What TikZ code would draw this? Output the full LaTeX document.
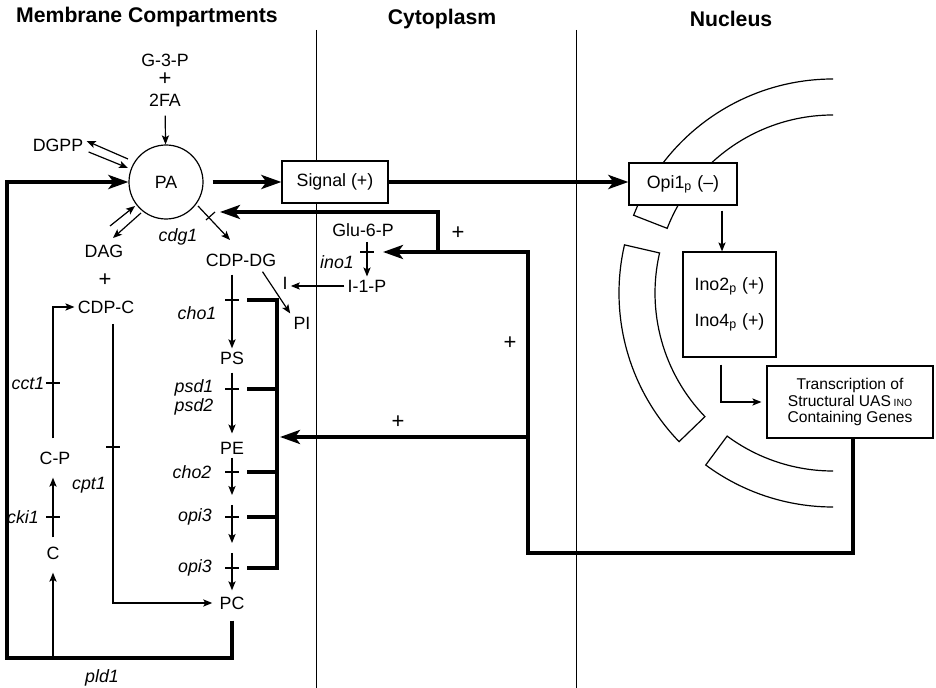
\documentclass[tikz,border=0pt]{standalone}
\usepackage{fontspec}
\setmainfont{Liberation Sans}
\usetikzlibrary{arrows.meta,calc,positioning}
\newcommand{\bodyfont}{\fontsize{8.9}{10.5}\selectfont}
\newcommand{\headfont}{\fontsize{10.6}{12}\selectfont\bfseries}
\newcommand{\boxfont}{\fontsize{7.8}{8.3}\selectfont}
\tikzset{
  lbl/.style={font=\bodyfont,inner sep=1.5pt},
  plus/.style={font=\fontsize{11}{12}\selectfont,inner sep=1pt},
  gene/.style={font=\bodyfont\itshape,inner sep=1pt},
  hdr/.style={font=\headfont,anchor=base},
  conn/.style={line width=0.6pt},
  arr/.style={conn,-{Stealth[length=4.5pt,width=3.6pt,inset=1pt]}},
  fb/.style={line width=1.8pt},
  fbarr/.style={fb,-{Stealth[length=10pt,width=7pt,inset=2.5pt]}},
  box/.style={draw,line width=0.6pt,fill=white,font=\bodyfont,inner sep=2pt},
  envelope/.style={draw,line width=0.6pt},
  divider/.style={line width=0.5pt},
}

\begin{document}
\begin{tikzpicture}[x=0.5pt,y=-0.5pt]
\useasboundingbox (0,0) rectangle (936,688);
% compartments
\node[hdr] (hmem) at (147,23) {Membrane Compartments};
\node[hdr] (hcyt) at (442,25) {Cytoplasm};
\node[hdr] (hnuc) at (731,27) {Nucleus};
\draw[divider] (316,30) -- (316,688);
\draw[divider] (576,30) -- (576,688);
% nuclear envelope with pores
\coordinate (nc) at (833,293);
\draw[envelope] ($(nc)+(-90:214)$) arc[start angle=-90,end angle=-158.7,radius=214] -- ($(nc)+(-158.7:178)$) arc[start angle=-158.7,end angle=-90,radius=178];
\draw[envelope] ($(nc)+(-167:214)$) arc[start angle=-167,end angle=-224,radius=214] -- ($(nc)+(-224:178)$) arc[start angle=-224,end angle=-167,radius=178] -- cycle;
\draw[envelope] ($(nc)+(-270:214)$) arc[start angle=-270,end angle=-233.5,radius=214] -- ($(nc)+(-233.5:178)$) arc[start angle=-233.5,end angle=-270,radius=178];

% membrane lipids
\node[draw,circle,conn,minimum size=37pt,inner sep=0pt,font=\bodyfont] (PA) at (166,182) {PA};
\node[lbl] (g3p) at (165,60) {G-3-P};
\node[plus] (plusA) at (165,79) {+};
\node[lbl] (fa) at (165,100) {2FA};
\node[lbl] (dgpp) at (58,145) {DGPP};
\node[lbl] (dag) at (104,251) {DAG};
\node[plus] (plusB) at (105,280) {+};
\node[lbl] (cdpc) at (106,307) {CDP-C};
\node[gene] (cdg) at (178,237) {cdg1};
\node[lbl] (cdpdg) at (241,260) {CDP-DG};
\node[lbl] (I) at (285,283) {I};
\node[lbl] (PI) at (302,323) {PI};
\node[lbl] (PS) at (232,358) {PS};
\node[lbl] (PE) at (232,448) {PE};
\node[lbl] (PC) at (232,603) {PC};
\node[gene] (cho1) at (197,313) {cho1};
\node[gene] (psdA) at (194,388) {psd1};
\node[gene] (psdB) at (194,407) {psd2};
\node[gene] (cho2) at (192,472) {cho2};
\node[gene] (opiA) at (195,517) {opi3};
\node[gene] (opiB) at (195,568) {opi3};
\node[gene] (cct) at (28,383) {cct1};
\node[lbl] (CP) at (55,458) {C-P};
\node[gene] (cki) at (23,517) {cki1};
\node[lbl] (C) at (53,553) {C};
\node[gene] (cpt) at (89,485) {cpt1};
\node[gene] (pld) at (102,678) {pld1};
% cytoplasm
\node[lbl] (glu) at (363,230) {Glu-6-P};
\node[gene] (ino) at (337,262) {ino1};
\node[lbl] (ilp) at (367,286) {I-1-P};
\node[box,minimum width=53pt,minimum height=21pt] (signal) at (335,182) {Signal (+)};
\node[plus] (plusC) at (458,233) {+};
\node[plus] (plusD) at (510,343) {+};
\node[plus] (plusE) at (398,422) {+};
% nucleus
\node[box,minimum width=54pt,minimum height=21pt] (opi) at (683,184) {Opi1\textsubscript{p} (--)};
\node[box,minimum width=46.5pt,minimum height=52.5pt,align=center] (ino24) at (729.5,304.5) {Ino2\textsubscript{p} (+)\\[7.5pt]Ino4\textsubscript{p} (+)};
\node[box,minimum width=83pt,minimum height=36pt,align=center,font=\boxfont] (trans) at (850,402) {Transcription of\\Structural UAS\,\raisebox{-0.4pt}{\fontsize{5.2}{6}\selectfont INO}\\Containing Genes};

% PA synthesis and exchange
\draw[arr,shorten <=3pt] (fa) -- (PA);
\draw[arr] ($(PA)+(-38,-23)$) -- ($(dgpp.east)+(0,-4)$);
\draw[arr] ($(dgpp.east)+(2,7)$) -- ($(PA)+(-38,-14)$);
\draw[arr] ($(PA)+(-56,44)$) -- ($(PA)+(-31,24)$);
\draw[arr] ($(PA)+(-25,31)$) -- ($(PA)+(-53,56)$);
\draw[arr] ($(PA)+(32,24)$) -- ($(PA)+(64,58)$);
\draw[conn] ($(PA)+(40,38)$) -- ($(PA)+(49,30)$);
\draw[arr] ($(cdpdg.south east)+(-17,2)$) -- (PI.north west);
% choline branch
\coordinate (cbase) at (53,657);
\coordinate (cdpcx) at (113,324);
\draw[arr,shorten >=5pt] (cbase) -- (C);
\draw[arr,shorten <=3pt,shorten >=5pt] (C) -- (C |- CP.south);
\draw[conn] (46,517) -- (60,517);
\draw[arr,shorten <=5pt] (CP.north -| C) |- (cdpc.west);
\draw[conn] (46,383) -- (60,383);
\draw[arr,shorten >=2pt] (cdpcx) |- (PC.west);
\draw[conn] (106,447) -- (120,447);
% methylation pathway
\coordinate (pmme) at (232,500);
\coordinate (pdme) at (232,548);
\draw[arr,shorten <=2.5pt] (cdpdg.south -| PS) -- (PS);
\draw[arr,shorten <=2.5pt,shorten >=2.5pt] (PS) -- (PE);
\draw[arr,shorten >=2.5pt] (PE) -- (pmme);
\draw[arr,shorten <=2.5pt,shorten >=2.5pt] (pmme) -- (pdme);
\draw[arr,shorten <=2.5pt,shorten >=1.5pt] (pdme) -- (PC);
\foreach \ty in {300,389,472,517,568}
  \draw[conn] (225,\ty) -- (239,\ty);
\draw[fb] (247,300) -- (277,300) -- (277,568) -- (247,568);
\foreach \ty in {389,472,517}
  \draw[fb] (247,\ty) -- (277,\ty);
% inositol
\draw[arr] (ilp.west) -- (ilp.west -| I.east);
\draw[arr,shorten <=1pt] (glu.south -| ilp) -- (ilp.north);
\draw[conn] (360,252) -- (374,252);

% Opi1 signalling
\draw[fbarr,shorten <=4.5pt] (PA) -- (signal);
\draw[fbarr] (signal.east) -- (signal.east -| opi.west);
\draw[arr,shorten <=2.5pt] ($(opi.south)+(39,0)$) -- ($(ino24.north)+(-7.5,0)$);
\draw[arr,shorten <=3.5pt,shorten >=2.5pt] ($(ino24.south)+(-8.5,0)$) |- (trans.west);
% regulation by UAS-INO genes
\coordinate (loopR) at (853,553);
\coordinate (loopL) at (528,553);
\coordinate (inoT) at (528,252);
\coordinate (inoTip) at (383,252);
\draw[fbarr] (trans.south -| loopR) -- (loopR) -- (loopL) -- (inoT) -- (inoTip);
\draw[fbarr] (528,437) -- (280,437);
\draw[fbarr] (438,252) -- (438,212) -- (220,212);
% pld1 recycling
\coordinate (pldc) at (232,658);
\draw[fbarr,shorten <=4pt] (PC.south) -- (pldc) -- (7,658) -- (7,182) -- (PA.west);
\end{tikzpicture}
\end{document}
